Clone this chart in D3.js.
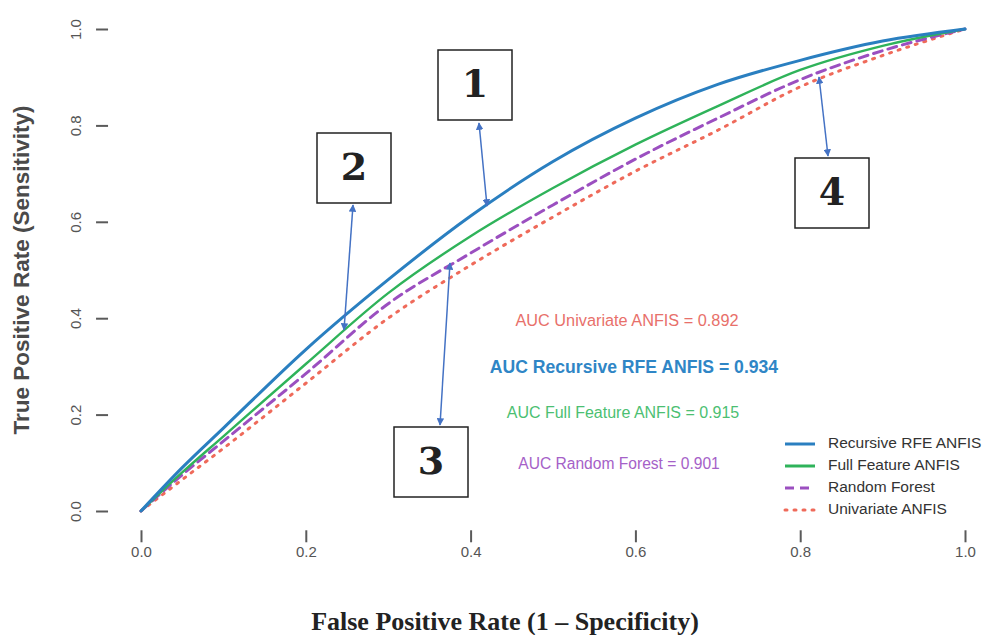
<!DOCTYPE html>
<html>
<head>
<meta charset="utf-8">
<script src="https://cdn.jsdelivr.net/npm/d3@7"></script>
<style>
  body { margin: 0; background: #fff; }
  svg { display: block; }
</style>
</head>
<body>
<div id="chart"></div>
<script>
// ROC curve data
var fpr = [0, 0.05, 0.1, 0.2, 0.3, 0.4, 0.5, 0.6, 0.7, 0.8, 0.9, 1.0]
var tprRecursive = [0, 0.09, 0.172, 0.335, 0.48, 0.612, 0.725, 0.815, 0.885, 0.935, 0.975, 1]
var tprFull      = [0, 0.08, 0.155, 0.305, 0.452, 0.57, 0.67, 0.76, 0.84, 0.915, 0.965, 1]
var tprForest    = [0, 0.075, 0.145, 0.285, 0.43, 0.535, 0.635, 0.73, 0.815, 0.895, 0.955, 1]
var tprUnivar    = [0, 0.065, 0.13, 0.265, 0.4, 0.51, 0.61, 0.705, 0.79, 0.88, 0.945, 1]

var seriesNames = ["Recursive RFE ANFIS", "Full Feature ANFIS", "Random Forest", "Univariate ANFIS"]
var seriesColors = ["#2a7fc0", "#2fb35a", "#9b4fc0", "#ef6a5a"]
var tickValues = [0, 0.2, 0.4, 0.6, 0.8, 1.0]

var aucLabels = ["AUC Univariate ANFIS = 0.892", "AUC Recursive RFE ANFIS = 0.934",
                 "AUC Full Feature ANFIS = 0.915", "AUC Random Forest = 0.901"]
var aucColors = ["#e8706a", "#2f86c6", "#4cbf72", "#a561c8"]

var width = 990, height = 635

var svg = d3.select("#chart").append("svg")
    .attr("width", width)
    .attr("height", height)

// scales (R style: 4% padding around the data range)
var x = d3.scaleLinear().domain([0, 1]).range([141, 965])
var y = d3.scaleLinear().domain([0, 1]).range([511, 29])

var left = x(-0.04), right = x(1.04), top = y(1.04), bottom = y(-0.04)

svg.append("defs").append("clipPath").attr("id", "plotclip")
  .append("rect")
    .attr("x", left).attr("y", top)
    .attr("width", right - left).attr("height", bottom - top)

// diagonal reference
svg.append("line")
    .attr("clip-path", "url(#plotclip)")
    .attr("x1", x(-0.04)).attr("y1", y(-0.04))
    .attr("x2", x(1.04)).attr("y2", y(1.04))
    .attr("stroke", "#d4d4d4")
    .attr("stroke-width", 1.6)
    .attr("stroke-dasharray", "7,5")

var line = d3.line()
    .x(function(d) { return x(d[0]) })
    .y(function(d) { return y(d[1]) })
    .curve(d3.curveMonotoneX)

var allTpr = [tprRecursive, tprFull, tprForest, tprUnivar]
var dashes = [null, null, "9,6", "2,7"]
var widths = [3, 2.4, 3, 3]

// draw back to front
;[3, 2, 1, 0].forEach(function(i) {
  var tpr = allTpr[i]
  svg.append("path")
    .datum(fpr.map(function(f, k) { return [f, tpr[k]] }))
    .attr("d", line)
    .attr("fill", "none")
    .attr("stroke", seriesColors[i])
    .attr("stroke-width", widths[i])
    .attr("stroke-linecap", "round")
    .attr("stroke-dasharray", dashes[i])
})

// box
svg.append("rect")
    .attr("x", left).attr("y", top)
    .attr("width", right - left).attr("height", bottom - top)
    .attr("fill", "none")
    .attr("stroke", "#5a5a5a")
    .attr("stroke-width", 2)

// x axis
var xAxis = svg.append("g")
    .attr("transform", "translate(0," + (bottom) + ")")
    .call(d3.axisBottom(x).tickValues(tickValues).tickFormat(d3.format(".1f")).tickSize(12).tickPadding(4))
xAxis.select(".domain").remove()
xAxis.selectAll("line").attr("stroke", "#5a5a5a").attr("stroke-width", 2)
xAxis.selectAll("text").attr("font-family", "Liberation Sans, Arial, sans-serif")
    .attr("font-size", 15).attr("fill", "#555")

// y axis
var yAxis = svg.append("g")
    .attr("transform", "translate(" + left + ",0)")
    .call(d3.axisLeft(y).tickValues(tickValues).tickFormat(d3.format(".1f")).tickSize(12).tickPadding(0))
yAxis.select(".domain").remove()
yAxis.selectAll("line").attr("stroke", "#5a5a5a").attr("stroke-width", 2)
yAxis.selectAll("text")
    .attr("font-family", "Liberation Sans, Arial, sans-serif")
    .attr("font-size", 15).attr("fill", "#555")
    .attr("text-anchor", "middle")
    .attr("dy", null)
    .attr("x", null)
    .attr("transform", "translate(-31,0) rotate(-90)")
    .attr("dominant-baseline", "middle")

// axis titles
svg.append("text")
    .attr("transform", "translate(23," + y(0.5) + ") rotate(-90)")
    .attr("text-anchor", "middle")
    .attr("dominant-baseline", "middle")
    .attr("font-family", "Liberation Sans, Arial, sans-serif")
    .attr("font-size", 22.5)
    .attr("font-weight", "bold")
    .attr("fill", "#4a4a4a")
    .text("True Positive Rate (Sensitivity)")

svg.append("text")
    .attr("x", 505).attr("y", 630)
    .attr("text-anchor", "middle")
    .attr("font-family", "Liberation Serif, Times New Roman, serif")
    .attr("font-size", 26)
    .attr("font-weight", "bold")
    .attr("fill", "#222")
    .text("False Positive Rate (1 \u2013 Specificity)")

// AUC annotations
var aucPos = [[627, 322], [634, 368], [623, 414], [619, 465]]
var aucSize = [16.3, 17.6, 16, 15.6]
aucLabels.forEach(function(t, i) {
  svg.append("text")
    .attr("x", aucPos[i][0]).attr("y", aucPos[i][1])
    .attr("text-anchor", "middle")
    .attr("dominant-baseline", "middle")
    .attr("font-family", "Liberation Sans, Arial, sans-serif")
    .attr("font-size", aucSize[i])
    .attr("font-weight", i == 1 ? "bold" : "normal")
    .attr("fill", aucColors[i])
    .text(t)
})

// legend
var legendY = [444, 466, 488, 510]
seriesNames.forEach(function(name, i) {
  svg.append("line")
    .attr("x1", 785).attr("x2", 815)
    .attr("y1", legendY[i]).attr("y2", legendY[i])
    .attr("stroke", seriesColors[i])
    .attr("stroke-width", 3)
    .attr("stroke-dasharray", i == 2 ? "9,6" : (i == 3 ? "2,7" : null))
    .attr("stroke-linecap", i == 3 ? "round" : "butt")
  svg.append("text")
    .attr("x", 828).attr("y", legendY[i])
    .attr("dominant-baseline", "middle")
    .attr("font-family", "Liberation Sans, Arial, sans-serif")
    .attr("font-size", 15.5)
    .attr("fill", "#333")
    .text(name)
})

// numbered callout boxes with double-headed arrows
var marker = svg.select("defs").append("marker")
    .attr("id", "head")
    .attr("viewBox", "0 0 10 10")
    .attr("refX", 9).attr("refY", 5)
    .attr("markerWidth", 5).attr("markerHeight", 5)
    .attr("orient", "auto-start-reverse")
marker.append("path").attr("d", "M0,0 L10,5 L0,10 z").attr("fill", "#4472c4")

var boxes = [
  {label: "1", x: 438, y: 50, a: [479, 123], b: [487, 206]},
  {label: "2", x: 317, y: 133, a: [353, 205], b: [344, 330]},
  {label: "3", x: 394, y: 427, a: [450, 263], b: [440, 425]},
  {label: "4", x: 795, y: 158, a: [819, 77], b: [828, 156]}
]
boxes.forEach(function(bx) {
  svg.append("rect")
    .attr("x", bx.x).attr("y", bx.y)
    .attr("width", 74).attr("height", 70)
    .attr("fill", "#fff")
    .attr("stroke", "#222")
    .attr("stroke-width", 1.5)
  svg.append("text")
    .attr("x", bx.x + 37).attr("y", bx.y + 37)
    .attr("text-anchor", "middle")
    .attr("dominant-baseline", "middle")
    .attr("font-family", "DejaVu Serif, serif")
    .attr("font-size", 38)
    .attr("font-weight", "bold")
    .attr("fill", "#222")
    .text(bx.label)
  svg.append("line")
    .attr("x1", bx.a[0]).attr("y1", bx.a[1])
    .attr("x2", bx.b[0]).attr("y2", bx.b[1])
    .attr("stroke", "#4472c4")
    .attr("stroke-width", 1.5)
    .attr("marker-start", "url(#head)")
    .attr("marker-end", "url(#head)")
})
</script>
</body>
</html>
